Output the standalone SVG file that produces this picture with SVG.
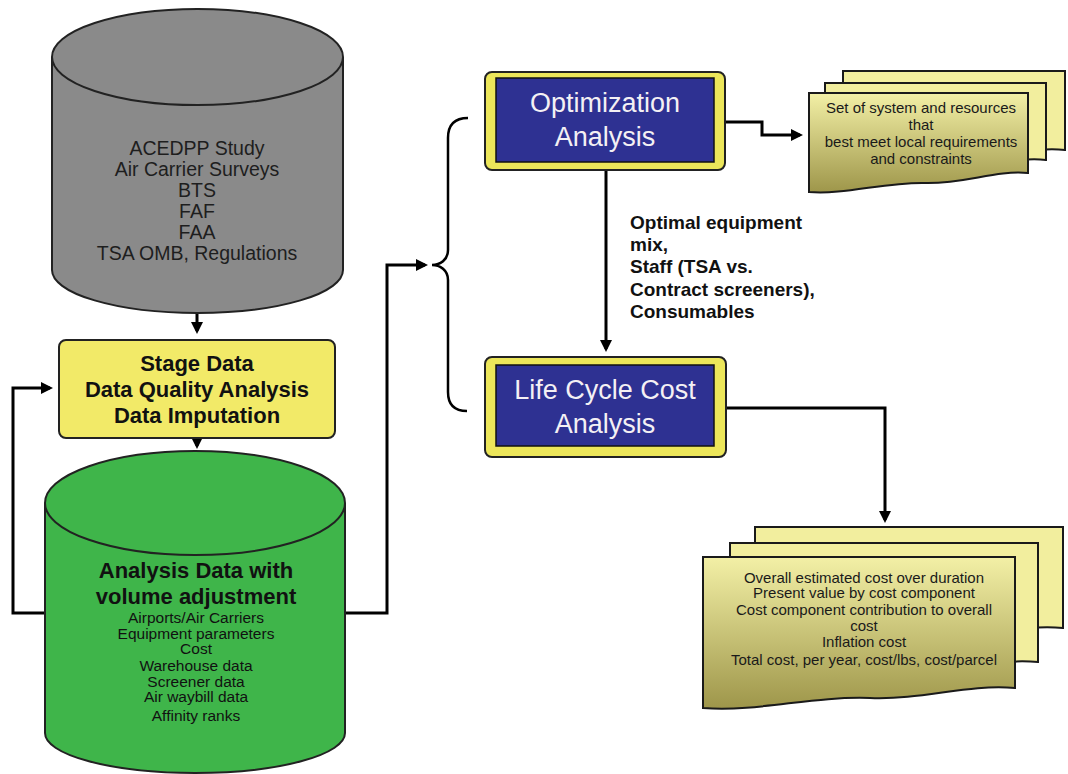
<svg xmlns="http://www.w3.org/2000/svg" width="1068" height="774" viewBox="0 0 1068 774">
<style>
text{font-family:"Liberation Sans",Arial,sans-serif;text-anchor:middle}
.gt{font-size:19.5px;fill:#1e1e1e}
.st{font-size:22px;font-weight:bold;fill:#111}
.gh{font-size:22px;font-weight:bold;fill:#111}
.gs{font-size:15.5px;fill:#111}
.bt{font-size:27px;fill:#f4f0f4}
.dt{font-size:15px;fill:#1a1a1a}
.lb{font-size:19px;font-weight:bold;fill:#111;text-anchor:start}
.ln{fill:none;stroke:#000;stroke-width:3}
.doc{stroke:#1a1a1a;stroke-width:2}
</style>
<defs>
<marker id="ah" markerWidth="12" markerHeight="12" refX="9" refY="6" orient="auto" markerUnits="userSpaceOnUse" viewBox="0 0 12 12">
<path d="M0,0 L12,6 L0,12 z" fill="#000"/>
</marker>
<linearGradient id="dg" x1="0" y1="0" x2="0" y2="1">
<stop offset="0" stop-color="#f3f0a6"/>
<stop offset="1" stop-color="#9e964a"/>
</linearGradient>
</defs>
<rect width="1068" height="774" fill="#fff"/>

<g id="connectors">
<path class="ln" d="M197,313 V331" marker-end="url(#ah)"/>
<path class="ln" d="M197,438 V446" marker-end="url(#ah)"/>
<path class="ln" d="M45,613 H13 V388 H50" marker-end="url(#ah)"/>
<path class="ln" d="M345,613 H387 V265 H425" marker-end="url(#ah)"/>
<path d="M468,118 C455,118 448,124 448,138 V250 C448,260 440,265 432,265 C440,265 448,270 448,280 V392 C448,405 455,411 467,411" fill="none" stroke="#000" stroke-width="2.5"/>
<path class="ln" d="M606,170 V349" marker-end="url(#ah)"/>
<path class="ln" d="M725,122 H762 V135 H800" marker-end="url(#ah)"/>
<path class="ln" d="M726,408 H885 V520" marker-end="url(#ah)"/>
</g>

<g id="sources">
<path d="M52,57 V270 A145.5,43 0 0 0 343,270 V57" fill="#8a8a8a" stroke="#222" stroke-width="2"/>
<ellipse cx="197.5" cy="57" rx="145.5" ry="48" fill="#8a8a8a" stroke="#222" stroke-width="2"/>
<text class="gt" x="197" y="155">ACEDPP Study</text>
<text class="gt" x="197" y="176">Air Carrier Surveys</text>
<text class="gt" x="197" y="197">BTS</text>
<text class="gt" x="197" y="218">FAF</text>
<text class="gt" x="197" y="239">FAA</text>
<text class="gt" x="197" y="260">TSA OMB, Regulations</text>
</g>

<g id="stage">
<rect x="59" y="340" width="276" height="98" rx="7" fill="#f2ea68" stroke="#222" stroke-width="2"/>
<text class="st" x="197" y="371">Stage Data</text>
<text class="st" x="197" y="397">Data Quality Analysis</text>
<text class="st" x="197" y="423">Data Imputation</text>
</g>

<g id="analysis-data">
<path d="M45,503 V733 A150,40 0 0 0 345,733 V503" fill="#3fb54a" stroke="#222" stroke-width="2"/>
<ellipse cx="195" cy="503" rx="150" ry="52" fill="#3fb54a" stroke="#222" stroke-width="2"/>
<text class="gh" x="196" y="578">Analysis Data with</text>
<text class="gh" x="196" y="604">volume adjustment</text>
<text class="gs" x="196" y="623">Airports/Air Carriers</text>
<text class="gs" x="196" y="639">Equipment parameters</text>
<text class="gs" x="196" y="654">Cost</text>
<text class="gs" x="196" y="671">Warehouse data</text>
<text class="gs" x="196" y="687">Screener data</text>
<text class="gs" x="196" y="702">Air waybill data</text>
<text class="gs" x="196" y="721">Affinity ranks</text>
</g>

<g id="optimization">
<rect x="485" y="72" width="240" height="98" rx="7" fill="#ece65a" stroke="#222" stroke-width="2"/>
<rect x="496" y="78" width="218" height="84" fill="#2e3192" stroke="#111" stroke-width="1.5"/>
<text class="bt" x="605" y="112">Optimization</text>
<text class="bt" x="605" y="146">Analysis</text>
</g>

<g id="lcc">
<rect x="485" y="357" width="241" height="100" rx="7" fill="#ece65a" stroke="#222" stroke-width="2"/>
<rect x="496" y="365" width="218" height="81" fill="#2e3192" stroke="#111" stroke-width="1.5"/>
<text class="bt" x="605" y="399">Life Cycle Cost</text>
<text class="bt" x="605" y="433">Analysis</text>
</g>

<g id="flow-label">
<text class="lb" x="630" y="229">Optimal equipment</text>
<text class="lb" x="630" y="251">mix,</text>
<text class="lb" x="630" y="273">Staff (TSA vs.</text>
<text class="lb" x="630" y="296">Contract screeners),</text>
<text class="lb" x="630" y="318">Consumables</text>
</g>

<g id="opt-result">
<path class="doc" d="M843,71 H1065 V150 C1030,146 1000,160 960,158 C920,156 880,170 843,168 Z" fill="#f2ee9e"/>
<path class="doc" d="M825,83 H1046 V160 C1010,156 980,172 940,170 C900,168 860,182 825,180 Z" fill="#f2ee9e"/>
<path class="doc" d="M809,93 H1028 V173 C995,170 965,184 925,183 C885,182 845,195 809,192 Z" fill="url(#dg)"/>
<text class="dt" x="921" y="113">Set of system and resources</text>
<text class="dt" x="921" y="130">that</text>
<text class="dt" x="921" y="147">best meet local requirements</text>
<text class="dt" x="921" y="164">and constraints</text>
</g>

<g id="lcc-result">
<path class="doc" d="M755,527 H1063 V628 C1015,624 975,640 920,638 C860,636 810,652 755,648 Z" fill="#f2ee9e"/>
<path class="doc" d="M730,543 H1038 V662 C990,658 950,674 895,672 C835,670 785,686 730,682 Z" fill="#f2ee9e"/>
<path class="doc" d="M703,557 H1015 V688 C965,684 925,700 870,698 C810,696 760,712 703,708 Z" fill="url(#dg)"/>
<text class="dt" x="864" y="583">Overall estimated cost over duration</text>
<text class="dt" x="864" y="598">Present value by cost component</text>
<text class="dt" x="864" y="615">Cost component contribution to overall</text>
<text class="dt" x="864" y="631">cost</text>
<text class="dt" x="864" y="647">Inflation cost</text>
<text class="dt" x="864" y="665">Total cost, per year, cost/lbs, cost/parcel</text>
</g>
</svg>
